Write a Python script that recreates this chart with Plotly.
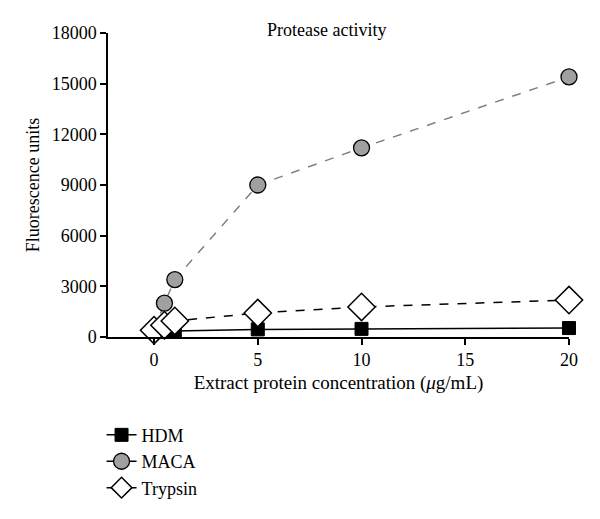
import plotly.graph_objects as go

conc = [0, 0.5, 1, 5, 10, 20]
hdm = [300, 300, 350, 450, 480, 530]
maca = [400, 2000, 3400, 9000, 11200, 15400]
trypsin = [400, 700, 950, 1420, 1780, 2190]
series_names = ["HDM", "MACA", "Trypsin"]
y_ticks = [0, 3000, 6000, 9000, 12000, 15000, 18000]
x_ticks = [0, 5, 10, 15, 20]

FONT = "Liberation Serif, Times New Roman, serif"

fig = go.Figure()

styles = [
    dict(line=dict(color="black", width=1.5, dash="solid"),
         marker=dict(symbol="square", size=13, color="black", line=dict(color="black", width=1))),
    dict(line=dict(color="#808080", width=1.5, dash="dash"),
         marker=dict(symbol="circle", size=16, color="#a0a0a0", line=dict(color="black", width=1.3))),
    dict(line=dict(color="black", width=1.5, dash="dash"),
         marker=dict(symbol="diamond", size=21, color="white", line=dict(color="black", width=1.5))),
]

for name, ys, st in zip(series_names, [hdm, maca, trypsin], styles):
    fig.add_trace(go.Scatter(x=conc, y=ys, mode="lines+markers", name=name,
                             line=st["line"], marker=st["marker"],
                             showlegend=False, cliponaxis=False))

# legend entries (solid lines as in the reference legend)
for name, st in zip(series_names, styles):
    fig.add_trace(go.Scatter(x=[None], y=[None], mode="lines+markers", name=name,
                             line=dict(color="black", width=1.5, dash="solid"),
                             marker=st["marker"], showlegend=True))

fig.update_layout(
    width=600, height=519,
    paper_bgcolor="white", plot_bgcolor="white",
    margin=dict(l=100, r=39, t=25, b=190, autoexpand=False),
    font=dict(family=FONT, size=18, color="black"),
    showlegend=True,
    legend=dict(x=-0.014, y=-0.262, xanchor="left", yanchor="top",
                font=dict(family=FONT, size=18), tracegroupgap=0,
                itemwidth=30, bgcolor="rgba(0,0,0,0)"),
    annotations=[dict(text="Protease activity", x=0.475, y=1.01, xref="paper", yref="paper",
                      xanchor="center", yanchor="middle", showarrow=False,
                      font=dict(family=FONT, size=18))],
)

fig.update_xaxes(range=[-2.22, 20], tickvals=x_ticks, automargin=False,
                 showline=True, linecolor="black", linewidth=1.5,
                 ticks="outside", ticklen=6, tickcolor="black", tickwidth=1.5,
                 showgrid=False, zeroline=False,
                 title=dict(text="Extract protein concentration (<i>μ</i>g/mL)", standoff=6,
                            font=dict(family=FONT, size=19)),
                 tickfont=dict(family=FONT, size=18))
fig.update_yaxes(range=[0, 18000], tickvals=y_ticks, tickformat="d", automargin=False,
                 showline=True, linecolor="black", linewidth=1.5,
                 ticks="outside", ticklen=6, tickcolor="black", tickwidth=1.5,
                 showgrid=False, zeroline=False,
                 title=dict(text="Fluorescence units", standoff=7,
                            font=dict(family=FONT, size=18)),
                 tickfont=dict(family=FONT, size=18))

fig.write_html("out.html")
